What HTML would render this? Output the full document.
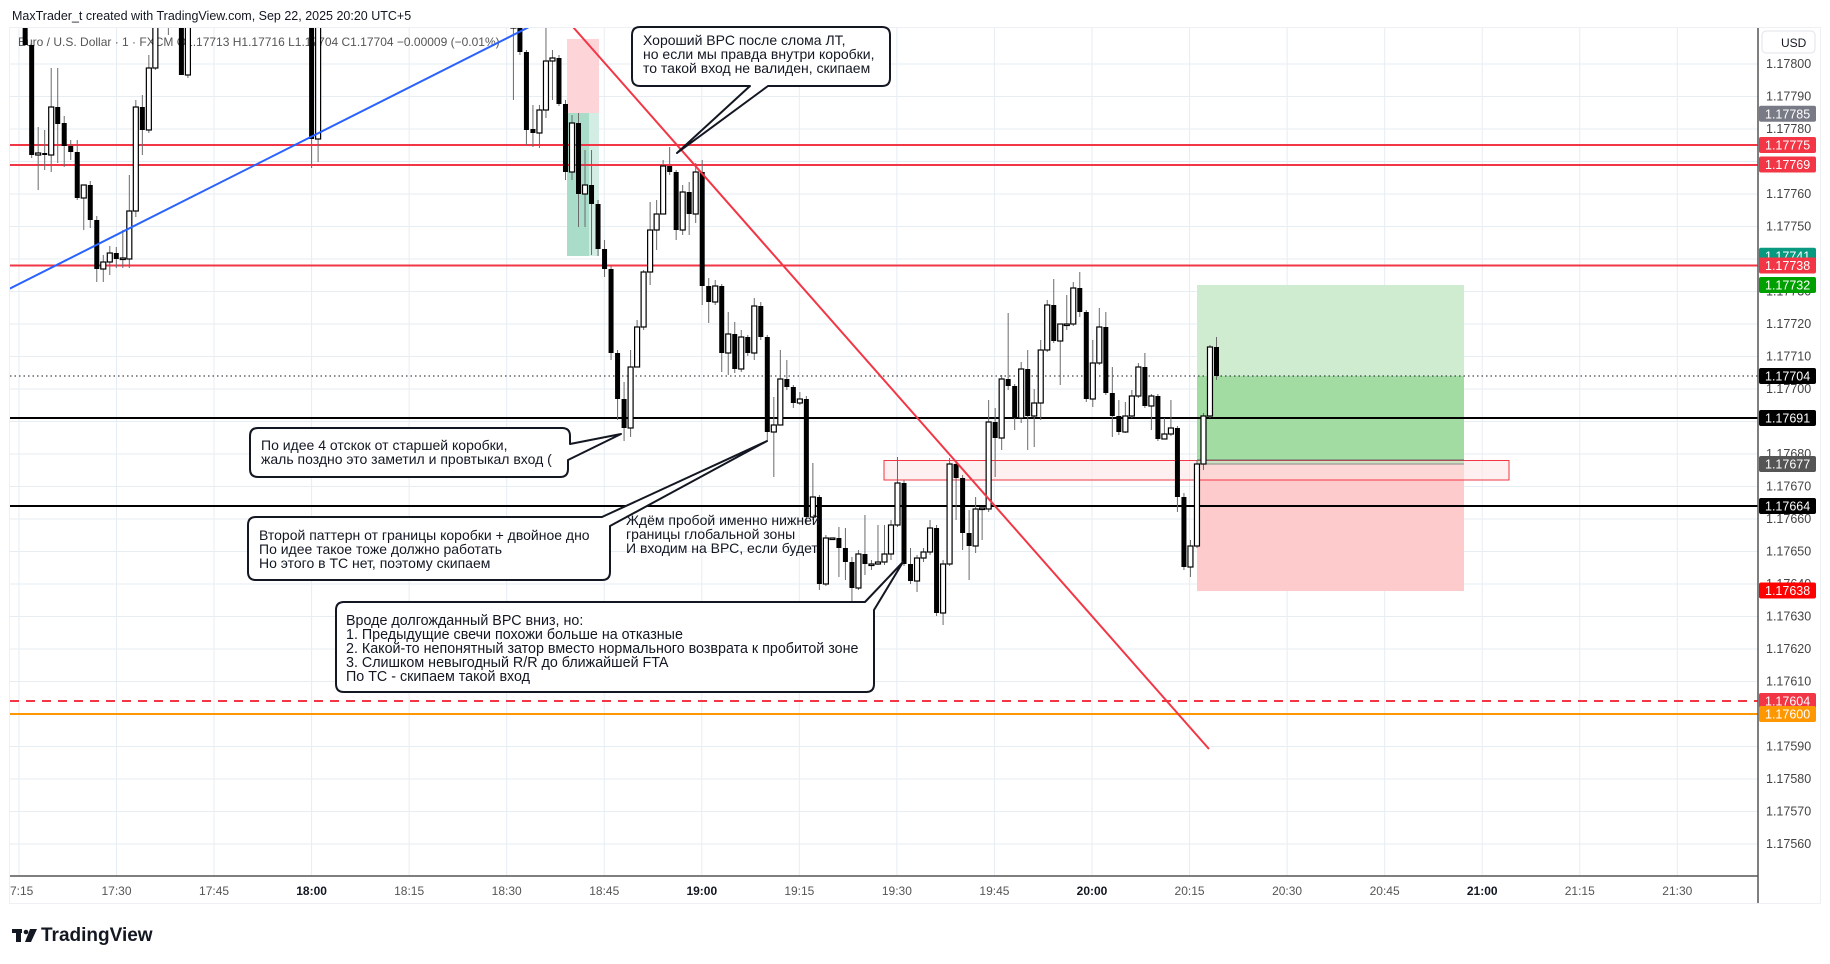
<!DOCTYPE html>
<html><head><meta charset="utf-8">
<style>
html,body{margin:0;padding:0;background:#fff;width:1830px;height:964px;overflow:hidden}
svg{display:block}
text{font-family:"Liberation Sans","DejaVu Sans",sans-serif}
</style></head>
<body>
<svg id="s" width="1830" height="964" viewBox="0 0 1830 964" xmlns="http://www.w3.org/2000/svg">
<defs><clipPath id="cp"><rect x="10" y="28" width="1748" height="848"/></clipPath></defs>
<rect x="0" y="0" width="1830" height="964" fill="#fff"/>
<text x="12" y="20" font-size="12.5" fill="#131722">MaxTrader_t created with TradingView.com, Sep 22, 2025 20:20 UTC+5</text>
<rect x="9.5" y="27.5" width="1811" height="876" fill="none" stroke="#eef0f3" stroke-width="1"/>
<g id="grid" stroke="#e6edf3" stroke-width="1"></g>
<text x="18" y="46" font-size="12" fill="#555">Euro / U.S. Dollar · 1 · FXCM  O1.17713 H1.17716 L1.17704 C1.17704 −0.00009 (−0.01%)</text>
<g clip-path="url(#cp)">
<rect x="567" y="39" width="32" height="74" fill="#fdd5d8"/>
<rect x="567" y="113" width="22" height="143" fill="#a9dcc9"/>
<rect x="589" y="113" width="10" height="143" fill="#d3ede4"/>
<rect x="1197" y="285" width="267" height="91" fill="#cfecd0"/>
<rect x="1197" y="376" width="267" height="88" fill="#a3dca3"/>
<rect x="1197" y="464" width="267" height="127" fill="#fdcbcb"/>
<rect x="884" y="460.5" width="625" height="19.5" fill="rgba(253,225,225,0.5)" stroke="#f23645" stroke-width="1"/>
<line x1="1197" y1="460" x2="1464" y2="460" stroke="#666" stroke-width="1"/>
<line x1="1197" y1="464" x2="1464" y2="464" stroke="#888" stroke-width="1"/>
<line x1="10" y1="145" x2="1758" y2="145" stroke="#f23645" stroke-width="2"/>
<line x1="10" y1="165" x2="1758" y2="165" stroke="#f23645" stroke-width="2"/>
<line x1="10" y1="265.5" x2="1758" y2="265.5" stroke="#f23645" stroke-width="2"/>
<line x1="10" y1="376" x2="1758" y2="376" stroke="#131722" stroke-width="1" stroke-dasharray="1.5,3"/>
<line x1="10" y1="418" x2="1758" y2="418" stroke="#000" stroke-width="2"/>
<line x1="10" y1="506" x2="1758" y2="506" stroke="#000" stroke-width="2"/>
<line x1="10" y1="701" x2="1758" y2="701" stroke="#f23645" stroke-width="2" stroke-dasharray="9,7"/>
<line x1="10" y1="714" x2="1758" y2="714" stroke="#ff9800" stroke-width="2"/>
<g id="candles"></g>
<line x1="9" y1="289" x2="531" y2="26" stroke="#2962ff" stroke-width="2"/>
<line x1="573" y1="27" x2="1209" y2="749" stroke="#f23645" stroke-width="2"/>
</g>
<g fill="#fff" stroke="#131722" stroke-width="2" stroke-linejoin="round">
<path d="M640,27 H882 Q890,27 890,35 V78 Q890,86 882,86 H768 L677,153 L750,86 H640 Q632,86 632,78 V35 Q632,27 640,27 Z"/>
<path d="M258,428 H562 Q570,428 570,436 V444 L621,434 L568,460 V469 Q568,477 560,477 H258 Q250,477 250,469 V436 Q250,428 258,428 Z"/>
<path d="M256,517 H602 L767,441 L610,526 V572 Q610,580 602,580 H256 Q248,580 248,572 V525 Q248,517 256,517 Z"/>
<path d="M344,602 H865 L903,562 L874,610 V684 Q874,692 866,692 H344 Q336,692 336,684 V610 Q336,602 344,602 Z"/>
</g>
<g font-size="14" fill="#131722">
<text x="643" y="45">Хороший ВРС после слома ЛТ,</text>
<text x="643" y="59">но если мы правда внутри коробки,</text>
<text x="643" y="73">то такой вход не валиден, скипаем</text>
<text x="261" y="450">По идее 4 отскок от старшей коробки,</text>
<text x="261" y="464">жаль поздно это заметил и провтыкал вход (</text>
<text x="259" y="540">Второй паттерн от границы коробки + двойное дно</text>
<text x="259" y="554">По идее такое тоже должно работать</text>
<text x="259" y="568">Но этого в ТС нет, поэтому скипаем</text>
<text x="626" y="525">Ждём пробой именно нижней</text>
<text x="626" y="539">границы глобальной зоны</text>
<text x="626" y="553">И входим на ВРС, если будет</text>
<g font-size="14.3">
<text x="346" y="625">Вроде долгожданный ВРС вниз, но:</text>
<text x="346" y="639">1. Предыдущие свечи похожи больше на отказные</text>
<text x="346" y="653">2. Какой-то непонятный затор вместо нормального возврата к пробитой зоне</text>
<text x="346" y="667">3. Слишком невыгодный R/R до ближайшей FTA</text>
<text x="346" y="681">По ТС - скипаем такой вход</text>
</g>
</g>
<line x1="1758" y1="28" x2="1758" y2="903" stroke="#555" stroke-width="1.5"/>
<line x1="10" y1="876" x2="1758" y2="876" stroke="#555" stroke-width="1.5"/>
<rect x="1762" y="31" width="53" height="22" rx="4" fill="#fff" stroke="#e0e3eb"/>
<text x="1781" y="47" font-size="12" fill="#131722">USD</text>
<g id="pax" font-size="12.5" fill="#444"></g>
<g id="tags" font-size="12.5"></g>
<g id="tax" font-size="12" fill="#555" text-anchor="middle"></g>
<g fill="#131722">
<rect x="12" y="929" width="10" height="4"/><rect x="16" y="929" width="5" height="13"/>
<circle cx="26" cy="932" r="2.3"/>
<path d="M30,929 H37 L31,942 H25 Z"/>
</g>
<text x="41" y="941" font-size="19" font-weight="bold" fill="#131722">TradingView</text>
</svg>
<script>
var NS="http://www.w3.org/2000/svg";
function el(p,t,a,txt){var e=document.createElementNS(NS,t);for(var k in a)e.setAttribute(k,a[k]);if(txt!==undefined)e.textContent=txt;p.appendChild(e);return e;}
var g=document.getElementById('grid');
for(var i=0;i<18;i++){var x=311.6+(i-3)*97.55;el(g,'line',{x1:x,y1:28,x2:x,y2:876});}
for(var p=0;p<=26;p++){var y=64+p*32.5;if(y>28&&y<876)el(g,'line',{x1:10,y1:y,x2:1758,y2:y});}
var pax=document.getElementById('pax');
for(var p=0;p<=24;p++){var v=117800-p*10;var y=64+p*32.5;el(pax,'text',{x:1766,y:y+4},(v/100000).toFixed(5));}
var tags=[["1.17785",113.75,"#787b86"],["1.17775",145,"#f23645"],["1.17769",164.5,"#f23645"],["1.17741",255.75,"#089981"],["1.17738",265.5,"#f23645"],["1.17732",285,"#00a000"],["1.17704",376,"#000"],["1.17691",418,"#000"],["1.17677",464,"#555"],["1.17664",506,"#000"],["1.17638",590.5,"#ff0000"],["1.17604",701,"#f23645"],["1.17600",714,"#ff9800"]];
var tg=document.getElementById('tags');
tags.forEach(function(t){el(tg,'rect',{x:1759,y:t[1]-8,width:57,height:16,rx:2,fill:t[2]});el(tg,'text',{x:1765,y:t[1]+4.5,fill:"#fff"},t[0]);});
var tax=document.getElementById('tax');
var labs=["17:15","17:30","17:45","18:00","18:15","18:30","18:45","19:00","19:15","19:30","19:45","20:00","20:15","20:30","20:45","21:00","21:15","21:30"];
labs.forEach(function(l,i){var x=311.6+(i-3)*97.55;var a={x:x,y:895};if(l.slice(3)=="00")a["font-weight"]="bold";a.fill=l.slice(3)=="00"?"#131722":"#555";if(i==0){a.x=10;a["text-anchor"]="start";l="7:15";}el(tax,'text',a,l);});
var C=[[-44,'b',0,45,0,45],[-43,'b',45,155,40,158],[-42,'w',153,155,127,190],[-41,'b',153,155,130,170],[-40,'w',107,155,68,172],[-39,'b',107,124,68,163],[-38,'b',123,146,116,167],[-37,'b',146,152,140,160],[-36,'b',152,198,140,200],[-35,'w',185,198,185,230],[-34,'b',185,220,181,228],[-33,'b',220,269,216,282],[-32,'w',262,269,255,282],[-31,'w',253,262,246,275],[-30,'b',253,259,247,268],[-29,'w',258,259,230,268],[-28,'w',211,259,175,268],[-27,'w',107,211,100,217],[-26,'b',107,130,95,155],[-25,'w',68,130,55,133],[-24,'w',0,68,0,70],[-22,'w',0,20,0,35],[-20,'b',0,75,0,75],[-19,'w',0,75,0,78],[0,'b',0,139,0,168],[1,'w',0,139,0,162],[31,'w',0,28,0,100],[32,'b',0,52,0,55],[33,'b',52,130,50,145],[34,'b',129,133,105,147],[35,'w',110,133,105,148],[36,'w',61,110,28,118],[37,'w',58,61,50,100],[38,'b',58,104,55,106],[39,'b',104,172,100,180],[40,'w',123,172,115,180],[41,'b',123,194,113,227],[42,'w',185,194,150,227],[43,'b',185,204,150,255],[44,'b',204,249,200,256],[45,'b',249,269,240,277],[46,'b',269,353,266,360],[47,'b',353,399,350,420],[48,'b',399,428,382,441],[49,'w',367,428,350,437],[50,'w',327,367,320,367],[51,'w',272,327,270,330],[52,'w',230,272,202,285],[53,'w',214,230,200,250],[54,'w',166,214,160,214],[55,'b',166,172,147,175],[56,'b',172,230,170,240],[57,'w',192,230,185,235],[58,'b',192,214,182,235],[59,'w',172,214,163,223],[60,'b',172,286,160,305],[61,'b',286,302,278,323],[62,'w',286,302,280,305],[63,'b',286,353,284,372],[64,'w',334,353,312,375],[65,'b',334,369,322,373],[66,'w',337,369,330,372],[67,'b',337,353,335,356],[68,'w',306,353,298,360],[69,'b',306,337,302,340],[70,'b',337,432,335,440],[71,'w',425,432,397,477],[72,'w',379,425,350,425],[73,'b',379,387,360,390],[74,'b',387,403,385,408],[75,'w',399,403,392,405],[76,'b',399,517,396,525],[77,'w',497,517,463,520],[78,'b',497,584,495,590],[79,'w',538,584,535,586],[80,'w',538,539,538,540],[81,'b',538,548,527,577],[82,'b',548,562,528,580],[83,'b',562,588,557,612],[84,'w',554,588,550,590],[85,'b',554,564,515,575],[86,'w',564,565,560,570],[87,'w',562,564,525,565],[88,'w',554,562,525,565],[89,'w',525,554,520,560],[90,'w',483,525,457,527],[91,'b',483,564,480,566],[92,'b',564,581,548,584],[93,'w',558,581,555,592],[94,'w',552,558,548,562],[95,'w',528,552,520,555],[96,'b',528,613,525,616],[97,'w',564,613,560,625],[98,'w',464,564,458,566],[99,'b',464,478,460,520],[100,'b',478,533,475,550],[101,'b',533,546,510,580],[102,'w',509,546,497,553],[103,'w',508,509,508,540],[104,'w',422,509,400,512],[105,'b',422,438,408,477],[106,'w',379,438,375,450],[107,'b',379,386,313,390],[108,'b',386,418,384,430],[109,'w',369,418,362,423],[110,'b',369,416,350,450],[111,'w',403,416,389,447],[112,'w',350,403,340,420],[113,'w',305,350,300,352],[114,'b',305,341,279,343],[115,'w',324,341,324,385],[116,'w',324,325,295,330],[117,'w',288,324,282,326],[118,'b',288,312,272,317],[119,'b',312,399,310,402],[120,'w',363,399,340,407],[121,'w',327,363,308,365],[122,'b',327,393,312,395],[123,'b',393,416,367,437],[124,'b',416,432,400,435],[125,'w',416,432,402,433],[126,'w',396,416,390,418],[127,'w',367,396,363,398],[128,'b',367,406,353,408],[129,'w',396,406,394,430],[130,'b',396,439,394,441],[131,'w',434,439,418,438],[132,'w',428,434,400,436],[133,'b',428,497,426,512],[134,'b',497,567,493,570],[135,'w',546,567,540,577],[136,'w',464,546,460,548],[137,'w',416,464,413,470],[138,'w',347,416,345,418],[139,'b',347,376,337,380]];
var cg=document.getElementById('candles');
C.forEach(function(c){var x=311.6+c[0]*6.51;
el(cg,'line',{x1:x,y1:Math.min(c[4],c[2]),x2:x,y2:Math.max(c[5],c[3]),stroke:"#6a6a6a","stroke-width":1});
var h=Math.max(c[3]-c[2],1.5);
if(c[1]=='b')el(cg,'rect',{x:x-2.5,y:c[2],width:5,height:h,fill:"#000"});
else el(cg,'rect',{x:x-2.5,y:c[2],width:5,height:h,fill:"#fff",stroke:"#000","stroke-width":1.2});
});
</script>
</body></html>
